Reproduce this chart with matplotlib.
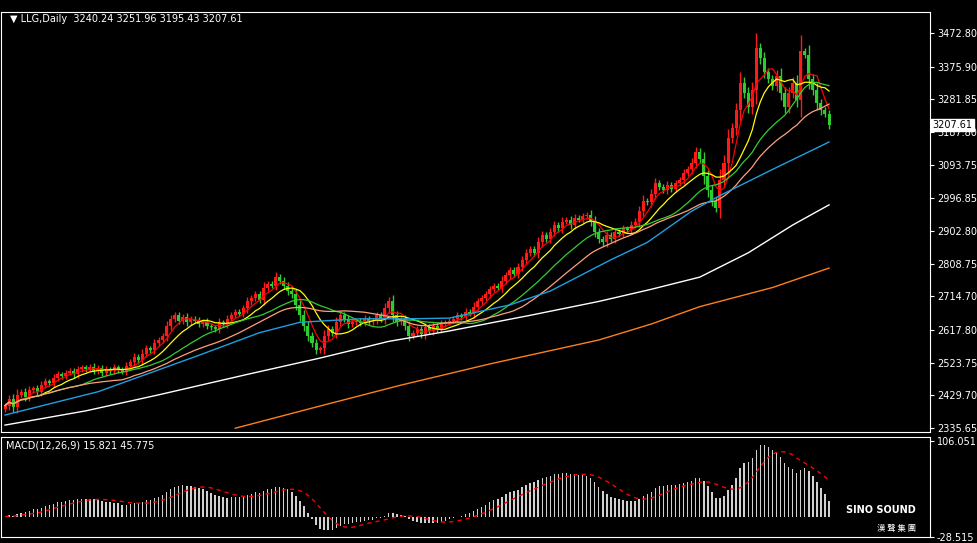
import matplotlib.pyplot as plt
import numpy as np
import pandas as pd

# daily closes
closes = [2400,2420,2395,2430,2440,2425,2445,2450,2440,2460,
          2470,2465,2480,2490,2485,2495,2500,2490,2505,2510,
          2505,2512,2500,2508,2495,2505,2500,2510,2503,2498,
          2515,2525,2540,2530,2550,2565,2560,2580,2590,2600,
          2630,2650,2660,2645,2655,2640,2650,2645,2635,2642,
          2630,2625,2620,2640,2635,2650,2660,2670,2665,2680,
          2700,2710,2720,2705,2740,2750,2745,2770,2760,2745,
          2730,2720,2690,2660,2630,2600,2580,2560,2565,2600,
          2620,2610,2640,2660,2650,2635,2640,2645,2638,2650,
          2640,2645,2660,2650,2680,2700,2660,2640,2650,2630,
          2600,2610,2620,2605,2625,2615,2630,2620,2635,2640,
          2645,2650,2660,2655,2670,2665,2685,2700,2710,2720,
          2735,2745,2740,2760,2775,2790,2780,2800,2820,2840,
          2850,2840,2870,2890,2880,2900,2920,2910,2930,2935,
          2920,2940,2935,2945,2950,2930,2900,2880,2870,2890,
          2880,2900,2895,2910,2905,2920,2930,2960,2990,2985,
          3010,3040,3030,3020,3035,3025,3040,3050,3070,3080,
          3100,3130,3110,3060,3020,2990,2970,3050,3100,3170,
          3200,3250,3330,3300,3260,3310,3430,3400,3360,3340,
          3320,3350,3300,3260,3300,3330,3280,3420,3410,3340,
          3310,3270,3250,3240.24,3207.61]
last_ohlc = [3240.24, 3251.96, 3195.43, 3207.61]

# long moving averages sampled from the chart (bar index, price)
ma_blue_idx = [0, 23, 48, 63, 73, 88, 100, 110, 125, 135, 150, 159, 170, 177, 190, 204]
ma_blue = [2373, 2440, 2545, 2610, 2640, 2650, 2650, 2652, 2690, 2730, 2820, 2870, 2960, 3005, 3080, 3159]
ma_white_idx = [0, 20, 38, 60, 78, 95, 110, 130, 147, 160, 172, 184, 195, 204]
ma_white = [2344, 2385, 2431, 2490, 2537, 2585, 2615, 2660, 2700, 2735, 2770, 2840, 2920, 2978]
ma_orange_idx = [57, 80, 98, 120, 147, 160, 172, 190, 204]
ma_orange = [2335, 2405, 2459, 2520, 2589, 2635, 2685, 2740, 2796]

yticks = [2335.65, 2429.70, 2523.75, 2617.80, 2714.70, 2808.75, 2902.80,
          2996.85, 3093.75, 3187.80, 3281.85, 3375.90, 3472.80]

c = np.array(closes, dtype=float)
o = np.r_[c[0] - 10, c[:-1]]
o[-1] = last_ohlc[0]
w = 0.3 * np.abs(c - o) + 6
h = np.maximum(o, c) + w
l = np.minimum(o, c) - w
h[-1], l[-1] = last_ohlc[1], last_ohlc[2]
n = len(c)
x = np.arange(n)

fig = plt.figure(figsize=(9.77, 5.43), dpi=100, facecolor='black')
W, H = 977, 543
ax = fig.add_axes([1 / W, 1 - 432 / H, 929 / W, 420 / H], facecolor='black')
ax2 = fig.add_axes([1 / W, 1 - 537 / H, 929 / W, 100 / H], facecolor='black', sharex=ax)

for i in range(n):
    col = '#ff1a1a' if c[i] >= o[i] else '#2ecc2e'
    ax.vlines(x[i], l[i], h[i], color=col, lw=1)
    ax.bar(x[i], abs(c[i] - o[i]) or 1, bottom=min(o[i], c[i]), width=0.75, color=col, lw=0)

s = pd.Series(c)
for per, col in [(5, 'red'), (10, 'yellow'), (20, '#33cc33'), (30, '#ffa07a')]:
    ax.plot(x, s.rolling(per, min_periods=1).mean(), color=col, lw=0.9)
ax.plot(ma_blue_idx, ma_blue, color='#1e9fe0', lw=1)
ax.plot(ma_white_idx, ma_white, color='white', lw=1)
ax.plot(ma_orange_idx, ma_orange, color='#ff7f1a', lw=1)

ylo, yhi = 2324.1, 3533.3
ax.set_xlim(-1, 229)
ax.set_ylim(ylo, yhi)
ax.yaxis.tick_right()
ax.set_yticks(yticks)
ax.set_yticklabels(['%.2f' % v for v in yticks])
ax.text(0.01, 0.995, '\u25bc LLG,Daily  3240.24 3251.96 3195.43 3207.61', transform=ax.transAxes,
        color='white', fontsize=7, va='top')
ax.text(1.003, (3207.61 - ylo) / (yhi - ylo), '3207.61', transform=ax.transAxes,
        color='black', fontsize=7, va='center',
        bbox=dict(facecolor='white', edgecolor='white', pad=1))

ema12 = s.ewm(span=12, adjust=False).mean()
ema26 = s.ewm(span=26, adjust=False).mean()
macd = ema12 - ema26
sig = macd.rolling(9, min_periods=1).mean()
ax2.bar(x, macd, width=0.35, color='#d0d0d0')
ax2.plot(x, sig, color='red', lw=1, ls=(0, (3, 3)))
ax2.set_ylim(-28.515, 106.051 * 1.05)
ax2.yaxis.tick_right()
ax2.set_yticks([-28.515, 106.051])
ax2.set_yticklabels(['-28.515', '106.051'])
ax2.text(0.005, 0.96, 'MACD(12,26,9) 15.821 45.775', transform=ax2.transAxes,
         color='white', fontsize=7, va='top')
ax2.text(0.985, 0.24, 'SINO SOUND', transform=ax2.transAxes, color='white',
         fontsize=7, fontweight='bold', ha='right')
ax2.text(0.985, 0.06, '漢 聲 集 團', transform=ax2.transAxes, color='white',
         fontsize=6, ha='right', fontfamily=['Noto Sans CJK TC', 'Noto Sans CJK JP', 'Noto Sans CJK SC'])

for a in (ax, ax2):
    a.tick_params(colors='white', labelsize=7, length=3, pad=2)
    a.tick_params(axis='x', bottom=False, labelbottom=False)
    for sp in a.spines.values():
        sp.set_color('white')

fig.savefig('out.png', facecolor='black')
